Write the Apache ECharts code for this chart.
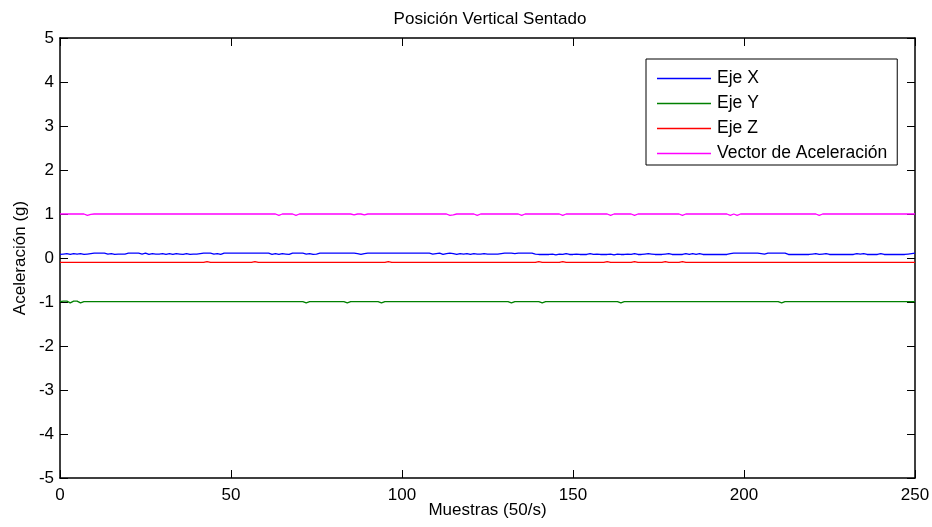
<!DOCTYPE html>
<html>
<head>
<meta charset="utf-8">
<script src="https://cdn.jsdelivr.net/npm/echarts@6/dist/echarts.min.js"></script>
<style>html,body{margin:0;padding:0;background:#fff}#c{width:932px;height:527px}</style>
</head>
<body>
<div id="c"></div>
<script>
// Samples 0..250
var seriesNames = ['Eje X', 'Eje Y', 'Eje Z', 'Vector de Aceleración'];
var xTicks = [0, 50, 100, 150, 200, 250];
var yTicks = [-5, -4, -3, -2, -1, 0, 1, 2, 3, 4, 5];

var ejeX = [
 0.08,0.09,0.10,0.08,0.10,0.09,0.10,0.08,0.09,0.10,
 0.11,0.11,0.11,0.11,0.09,0.10,0.08,0.09,0.09,0.09,
 0.11,0.11,0.11,0.11,0.09,0.11,0.08,0.10,0.09,0.09,
 0.10,0.08,0.10,0.08,0.10,0.09,0.08,0.10,0.08,0.09,
 0.09,0.10,0.11,0.11,0.11,0.09,0.10,0.08,0.11,0.11,
 0.11,0.11,0.11,0.11,0.11,0.11,0.11,0.11,0.11,0.11,
 0.11,0.11,0.08,0.10,0.08,0.10,0.09,0.08,0.11,0.11,
 0.11,0.11,0.09,0.10,0.08,0.09,0.11,0.11,0.11,0.11,
 0.11,0.11,0.11,0.11,0.11,0.11,0.11,0.10,0.08,0.10,
 0.11,0.11,0.11,0.11,0.11,0.11,0.11,0.11,0.11,0.11,
 0.11,0.11,0.11,0.11,0.11,0.11,0.11,0.11,0.11,0.09,
 0.10,0.11,0.08,0.10,0.11,0.10,0.08,0.10,0.09,0.10,
 0.08,0.10,0.09,0.09,0.10,0.09,0.09,0.09,0.09,0.10,
 0.11,0.11,0.11,0.10,0.11,0.11,0.11,0.11,0.11,0.09,
 0.08,0.08,0.08,0.08,0.09,0.07,0.09,0.08,0.10,0.08,
 0.08,0.09,0.08,0.08,0.08,0.10,0.08,0.09,0.08,0.08,
 0.08,0.09,0.07,0.09,0.08,0.08,0.09,0.08,0.10,0.08,
 0.08,0.09,0.10,0.09,0.08,0.08,0.08,0.09,0.10,0.08,
 0.08,0.08,0.08,0.10,0.08,0.10,0.08,0.10,0.08,0.08,
 0.08,0.08,0.08,0.08,0.08,0.08,0.10,0.11,0.11,0.11,
 0.11,0.11,0.11,0.11,0.11,0.10,0.09,0.11,0.11,0.11,
 0.11,0.11,0.11,0.08,0.08,0.08,0.08,0.08,0.08,0.08,
 0.09,0.10,0.08,0.09,0.10,0.08,0.08,0.08,0.08,0.08,
 0.08,0.08,0.08,0.10,0.09,0.10,0.08,0.08,0.08,0.08,
 0.10,0.08,0.08,0.08,0.08,0.08,0.08,0.08,0.09,0.10,
 0.11
];

var ejeY = [
 -0.99,-0.98,-0.98,-1.02,-0.98,-0.98,-1.02,-0.99,-0.99,-0.99,
 -0.99,-0.99,-0.99,-0.99,-0.99,-0.99,-0.99,-0.99,-0.99,-0.99,
 -0.99,-0.99,-0.99,-0.99,-0.99,-0.99,-0.99,-0.99,-0.99,-0.99,
 -0.99,-0.99,-0.99,-0.99,-0.99,-0.99,-0.99,-0.99,-0.99,-0.99,
 -0.99,-0.99,-0.99,-0.99,-0.99,-0.99,-0.99,-0.99,-0.99,-0.99,
 -0.99,-0.99,-0.99,-0.99,-0.99,-0.99,-0.99,-0.99,-0.99,-0.99,
 -0.99,-0.99,-0.99,-0.99,-0.99,-0.99,-0.99,-0.99,-0.99,-0.99,
 -0.99,-0.99,-1.02,-0.99,-0.99,-0.99,-0.99,-0.99,-0.99,-0.99,
 -0.99,-0.99,-0.99,-0.99,-1.02,-0.99,-0.99,-0.99,-0.99,-0.99,
 -0.99,-0.99,-0.99,-0.99,-1.02,-0.99,-0.99,-0.99,-0.99,-0.99,
 -0.99,-0.99,-0.99,-0.99,-0.99,-0.99,-0.99,-0.99,-0.99,-0.99,
 -0.99,-0.99,-0.99,-0.99,-0.99,-0.99,-0.99,-0.99,-0.99,-0.99,
 -0.99,-0.99,-0.99,-0.99,-0.99,-0.99,-0.99,-0.99,-0.99,-0.99,
 -0.99,-0.99,-1.02,-0.99,-0.99,-0.99,-0.99,-0.99,-0.99,-0.99,
 -0.99,-1.02,-0.99,-0.99,-0.99,-0.99,-0.99,-0.99,-0.99,-0.99,
 -0.99,-0.99,-0.99,-0.99,-0.99,-0.99,-0.99,-0.99,-0.99,-0.99,
 -0.99,-0.99,-0.99,-0.99,-1.02,-0.99,-0.99,-0.99,-0.99,-0.99,
 -0.99,-0.99,-0.99,-0.99,-0.99,-0.99,-0.99,-0.99,-0.99,-0.99,
 -0.99,-0.99,-0.99,-0.99,-0.99,-0.99,-0.99,-0.99,-0.99,-0.99,
 -0.99,-0.99,-0.99,-0.99,-0.99,-0.99,-0.99,-0.99,-0.99,-0.99,
 -0.99,-0.99,-0.99,-0.99,-0.99,-0.99,-0.99,-0.99,-0.99,-0.99,
 -0.99,-1.02,-0.99,-0.99,-0.99,-0.99,-0.99,-0.99,-0.99,-0.99,
 -0.99,-0.99,-0.99,-0.99,-0.99,-0.99,-0.99,-0.99,-0.99,-0.99,
 -0.99,-0.99,-0.99,-0.99,-0.99,-0.99,-0.99,-0.99,-0.99,-0.99,
 -0.99,-0.99,-0.99,-0.99,-0.99,-0.99,-0.99,-0.99,-0.99,-0.99,
 -0.99
];

var ejeZ = [
 -0.10,-0.10,-0.10,-0.10,-0.10,-0.10,-0.10,-0.10,-0.10,-0.10,
 -0.10,-0.10,-0.10,-0.10,-0.10,-0.10,-0.10,-0.10,-0.10,-0.10,
 -0.10,-0.10,-0.10,-0.10,-0.10,-0.10,-0.10,-0.10,-0.10,-0.10,
 -0.10,-0.10,-0.10,-0.10,-0.10,-0.10,-0.10,-0.10,-0.10,-0.10,
 -0.10,-0.10,-0.10,-0.08,-0.10,-0.10,-0.10,-0.10,-0.10,-0.10,
 -0.10,-0.10,-0.10,-0.10,-0.10,-0.10,-0.10,-0.08,-0.10,-0.10,
 -0.10,-0.10,-0.10,-0.10,-0.10,-0.10,-0.10,-0.10,-0.10,-0.10,
 -0.10,-0.10,-0.10,-0.10,-0.10,-0.10,-0.10,-0.10,-0.10,-0.10,
 -0.10,-0.10,-0.10,-0.10,-0.10,-0.10,-0.10,-0.10,-0.10,-0.10,
 -0.10,-0.10,-0.10,-0.10,-0.10,-0.10,-0.08,-0.10,-0.10,-0.10,
 -0.10,-0.10,-0.10,-0.10,-0.10,-0.10,-0.10,-0.10,-0.10,-0.10,
 -0.10,-0.10,-0.10,-0.10,-0.10,-0.10,-0.10,-0.10,-0.10,-0.10,
 -0.10,-0.10,-0.10,-0.10,-0.10,-0.10,-0.10,-0.10,-0.10,-0.10,
 -0.10,-0.10,-0.10,-0.10,-0.10,-0.10,-0.10,-0.10,-0.10,-0.10,
 -0.08,-0.10,-0.10,-0.10,-0.10,-0.10,-0.10,-0.08,-0.10,-0.10,
 -0.10,-0.10,-0.10,-0.10,-0.10,-0.10,-0.10,-0.10,-0.10,-0.10,
 -0.08,-0.10,-0.10,-0.10,-0.10,-0.10,-0.10,-0.10,-0.08,-0.10,
 -0.10,-0.10,-0.10,-0.10,-0.10,-0.10,-0.10,-0.08,-0.10,-0.10,
 -0.10,-0.10,-0.08,-0.10,-0.10,-0.10,-0.10,-0.10,-0.10,-0.10,
 -0.10,-0.10,-0.10,-0.10,-0.10,-0.10,-0.10,-0.10,-0.10,-0.10,
 -0.10,-0.10,-0.10,-0.10,-0.10,-0.10,-0.10,-0.10,-0.10,-0.10,
 -0.10,-0.10,-0.10,-0.10,-0.10,-0.10,-0.10,-0.10,-0.10,-0.10,
 -0.10,-0.10,-0.10,-0.10,-0.10,-0.10,-0.10,-0.10,-0.10,-0.10,
 -0.10,-0.10,-0.10,-0.10,-0.10,-0.10,-0.10,-0.10,-0.10,-0.10,
 -0.10,-0.10,-0.10,-0.10,-0.10,-0.10,-0.10,-0.10,-0.10,-0.10,
 -0.10
];

var vector = [
 1.00,1.00,1.00,1.00,1.00,1.00,1.00,1.00,0.97,0.99,
 1.00,1.00,1.00,1.00,1.00,1.00,1.00,1.00,1.00,1.00,
 1.00,1.00,1.00,1.00,1.00,1.00,1.00,1.00,1.00,1.00,
 1.00,1.00,1.00,1.00,1.00,1.00,1.00,1.00,1.00,1.00,
 1.00,1.00,1.00,1.00,1.00,1.00,1.00,1.00,1.00,1.00,
 1.00,1.00,1.00,1.00,1.00,1.00,1.00,1.00,1.00,1.00,
 1.00,1.00,1.00,1.00,0.97,1.00,1.00,1.00,1.00,0.97,
 1.00,1.00,1.00,1.00,1.00,1.00,1.00,1.00,1.00,1.00,
 1.00,1.00,1.00,1.00,1.00,1.00,0.98,1.00,1.00,0.98,
 1.00,1.00,1.00,1.00,1.00,1.00,1.00,1.00,1.00,1.00,
 1.00,1.00,1.00,1.00,1.00,1.00,1.00,1.00,1.00,1.00,
 1.00,1.00,1.00,1.00,0.97,0.98,1.00,1.00,1.00,1.00,
 1.00,1.00,0.97,1.00,1.00,1.00,1.00,1.00,1.00,1.00,
 1.00,1.00,1.00,1.00,1.00,0.97,1.00,1.00,1.00,1.00,
 1.00,1.00,1.00,1.00,1.00,1.00,1.00,0.97,1.00,1.00,
 1.00,1.00,1.00,1.00,1.00,1.00,1.00,1.00,1.00,1.00,
 1.00,0.97,1.00,1.00,1.00,1.00,1.00,1.00,0.97,1.00,
 1.00,1.00,1.00,1.00,1.00,1.00,1.00,1.00,1.00,1.00,
 1.00,1.00,0.97,1.00,1.00,1.00,1.00,1.00,1.00,1.00,
 1.00,1.00,1.00,1.00,1.00,1.00,0.97,1.00,0.97,1.00,
 1.00,1.00,1.00,1.00,1.00,1.00,1.00,1.00,1.00,1.00,
 1.00,1.00,1.00,1.00,1.00,1.00,1.00,1.00,1.00,1.00,
 1.00,1.00,0.97,1.00,1.00,1.00,1.00,1.00,1.00,1.00,
 1.00,1.00,1.00,1.00,1.00,1.00,1.00,1.00,1.00,1.00,
 1.00,1.00,1.00,1.00,1.00,1.00,1.00,1.00,1.00,1.00,
 1.00
];

var colors = ['#0000ff', '#008000', '#ff0000', '#ff00ff'];
var allData = [ejeX, ejeY, ejeZ, vector];
var FONT = 'Liberation Sans, Arial, sans-serif';

function pairs(arr) { return arr.map(function (v, i) { return [i, v]; }); }

var chart = echarts.init(document.getElementById('c'), null, { renderer: 'canvas' });

var tickStyle = { show: true, inside: true, length: 8, lineStyle: { color: '#000', width: 1 } };
var lineStyle = { show: true, onZero: false, lineStyle: { color: '#000', width: 1.5 } };

chart.setOption({
  animation: false,
  backgroundColor: '#fff',
  color: colors,
  title: {
    text: 'Posición Vertical Sentado',
    left: 485,
    textAlign: 'center',
    top: 6,
    textStyle: { fontFamily: FONT, fontSize: 17, fontWeight: 'normal', color: '#000' }
  },
  grid: { left: 60, right: 17, top: 38, bottom: 49, containLabel: false, outerBoundsMode: 'none' },
  legend: {
    orient: 'vertical',
    left: 646,
    top: 59,
    padding: [10, 10, 2, 11],
    itemWidth: 54,
    itemHeight: 1.5,
    itemGap: 6,
    icon: 'rect',
    backgroundColor: '#fff',
    borderColor: '#000',
    borderWidth: 1,
    borderRadius: 0,
    data: seriesNames,
    textStyle: { fontFamily: FONT, fontSize: 17.5, color: '#000', lineHeight: 19, padding: [0, 0, 0, 1] }
  },
  xAxis: [{
    type: 'value', min: xTicks[0], max: xTicks[xTicks.length - 1], interval: 50,
    position: 'bottom',
    name: 'Muestras (50/s)', nameLocation: 'middle', nameGap: 24, nameMoveOverlap: false,
    nameTextStyle: { fontFamily: FONT, fontSize: 17, color: '#000' },
    axisLine: lineStyle, axisTick: tickStyle,
    axisLabel: { fontFamily: FONT, fontSize: 17, color: '#000', margin: 9 },
    splitLine: { show: false }
  }, {
    type: 'value', min: xTicks[0], max: xTicks[xTicks.length - 1], interval: 50,
    position: 'top',
    axisLine: lineStyle, axisTick: tickStyle,
    axisLabel: { show: false }, splitLine: { show: false }
  }],
  yAxis: [{
    type: 'value', min: yTicks[0], max: yTicks[yTicks.length - 1], interval: 1,
    position: 'left',
    name: 'Aceleración (g)', nameLocation: 'middle', nameGap: 31, nameMoveOverlap: false,
    nameTextStyle: { fontFamily: FONT, fontSize: 17, color: '#000' },
    axisLine: lineStyle, axisTick: tickStyle,
    axisLabel: { fontFamily: FONT, fontSize: 17, color: '#000', margin: 6 },
    splitLine: { show: false }
  }, {
    type: 'value', min: yTicks[0], max: yTicks[yTicks.length - 1], interval: 1,
    position: 'right',
    axisLine: lineStyle, axisTick: tickStyle,
    axisLabel: { show: false }, splitLine: { show: false }
  }],
  series: seriesNames.map(function (name, k) {
    return {
      name: name,
      type: 'line',
      xAxisIndex: 0,
      yAxisIndex: 0,
      data: pairs(allData[k]),
      showSymbol: false,
      symbol: 'none',
      lineStyle: { width: 1.3, color: colors[k] },
      itemStyle: { color: colors[k] }
    };
  })
});
</script>
</body>
</html>
